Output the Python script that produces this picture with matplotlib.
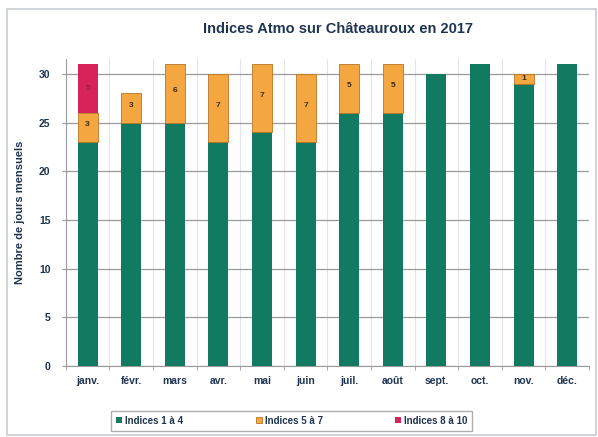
import matplotlib.pyplot as plt
import numpy as np

# %% data
months = ["janv.", "févr.", "mars", "avr.", "mai", "juin",
          "juil.", "août", "sept.", "oct.", "nov.", "déc."]
idx_1_4 = [23, 25, 25, 23, 24, 23, 26, 26, 30, 31, 29, 31]
idx_5_7 = [3, 3, 6, 7, 7, 7, 5, 5, 0, 0, 1, 0]
idx_8_10 = [5, 0, 0, 0, 0, 0, 0, 0, 0, 0, 0, 0]
series_names = ["Indices 1 à 4", "Indices 5 à 7", "Indices 8 à 10"]

green = "#137a62"
orange = "#f4a641"
red = "#d6245a"
navy = "#1f3450"

plt.rcParams['font.family'] = ['Liberation Sans', 'DejaVu Sans']

# %% figure
fig = plt.figure(figsize=(5.98, 4.37), dpi=100)
fig.patches.append(plt.Rectangle((0.012, 0.005), 0.985, 0.975, transform=fig.transFigure,
                                 fill=False, edgecolor="#c8ccd4", linewidth=1.2))
ax = fig.add_axes([0.110, 0.1625, 0.875, 0.7016])

x = np.arange(len(months))
g = np.array(idx_1_4)
o = np.array(idx_5_7)
r = np.array(idx_8_10)
w = 0.46

ax.bar(x, g, w, color=green, label=series_names[0], zorder=3)
ax.bar(x, o, w, bottom=g, color=orange, label=series_names[1], zorder=3,
       edgecolor=["#b97422" if v > 0 else "none" for v in o], linewidth=0.6)
ax.bar(x, r, w, bottom=g + o, color=red, label=series_names[2], zorder=3)

for i in range(len(x)):
    if o[i] > 0:
        ax.text(x[i], g[i] + o[i] / 2 + (0.3 if o[i] > 1 else 0), str(o[i]),
                ha="center", va="center", fontsize=6, fontweight="bold",
                color="#3a2a10", zorder=4)
    if r[i] > 0:
        ax.text(x[i], g[i] + o[i] + r[i] / 2, str(r[i]), ha="center", va="center",
                fontsize=6, fontweight="bold", color="#a01a45", zorder=4)

ax.set_xlim(-0.5, len(months) - 0.5)
ax.set_ylim(0, 31.5)
ax.set_yticks([0, 5, 10, 15, 20, 25, 30])
ax.set_xticks(x)
ax.set_xticklabels(months)
ax.set_xticks(np.arange(-0.5, len(months)), minor=True)
ax.grid(axis="y", color="#9a9a9a", linewidth=0.9, zorder=0)
ax.grid(axis="x", which="minor", color="#e4e4e4", linewidth=0.8, zorder=0)
ax.tick_params(axis="x", which="major", length=0, pad=7)
ax.tick_params(axis="x", which="minor", length=3, color="#9a9a9a")
ax.tick_params(axis="y", length=3, color="#9a9a9a", pad=8)
for lab in ax.get_xticklabels() + ax.get_yticklabels():
    lab.set_fontsize(7.5)
    lab.set_fontweight("bold")
    lab.set_color(navy)

for side in ["top", "right"]:
    ax.spines[side].set_visible(False)
ax.spines["left"].set_color("#9a9a9a")
ax.spines["bottom"].set_color("#9a9a9a")

ax.set_ylabel("Nombre de jours mensuels", fontsize=8, fontweight="bold",
              color=navy, labelpad=10)
fig.suptitle("Indices Atmo sur Châteauroux en 2017", x=0.565, y=0.95,
             fontsize=10.5, fontweight="bold", color=navy)

leg = fig.legend(loc="center", bbox_to_anchor=(0.488, 0.037), ncol=3,
                 fontsize=7, frameon=True, fancybox=False, edgecolor="#9a9a9a",
                 handlelength=0.6, handleheight=0.6, handletextpad=0.3,
                 columnspacing=7.5, borderpad=0.5, borderaxespad=0)
for t in leg.get_texts():
    t.set_fontweight("bold")
    t.set_color(navy)

fig.savefig("out.png", dpi=100)
